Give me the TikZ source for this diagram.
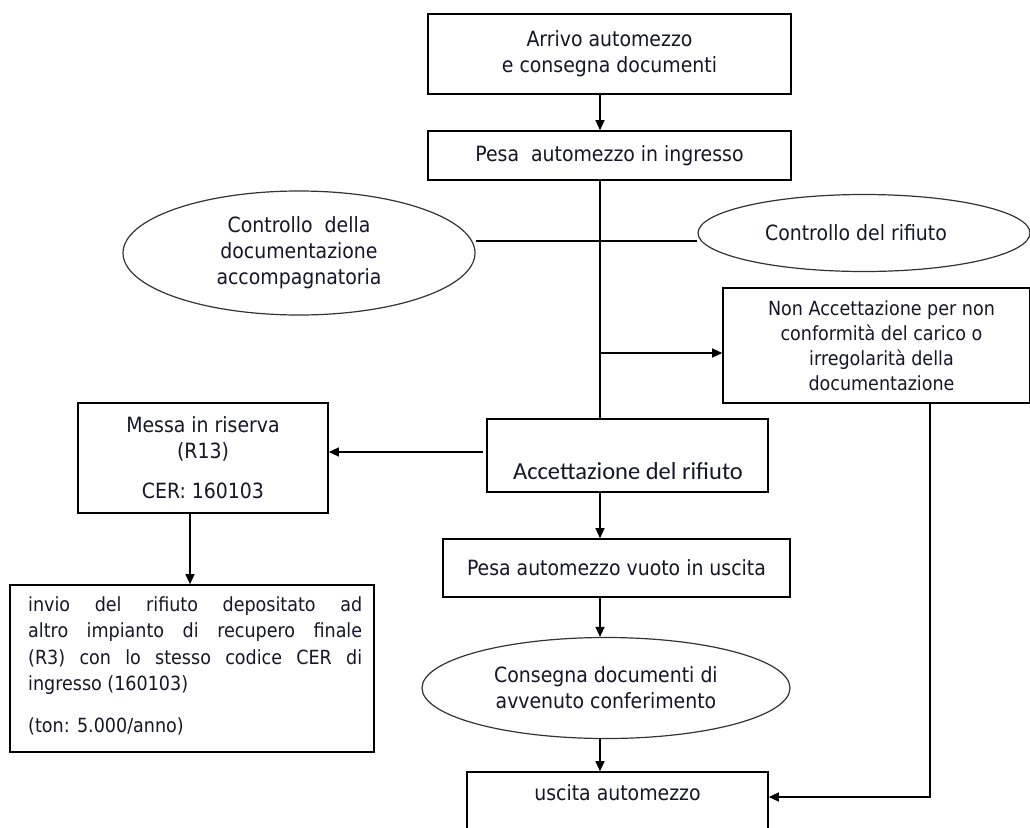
\documentclass[tikz,border=0pt]{standalone}
\usepackage{fontspec}
\setmainfont{DejaVu Sans Condensed}
\newfontfamily\calfont{Carlito}
\usetikzlibrary{arrows.meta,shapes.geometric}
\definecolor{txt}{RGB}{22,22,40}
\begin{document}
\begin{tikzpicture}[x=1pt,y=-1pt,
  box/.style={draw=black,line width=1.6pt,inner sep=0pt,align=center,text=txt},
  oval/.style={ellipse,draw=black!80,line width=1.2pt,inner sep=0pt,align=center,text=txt},
  f21/.style={font=\fontsize{21}{26}\selectfont},
  fna/.style={font=\fontsize{19.5}{25}\selectfont},
  finv/.style={font=\fontsize{19.5}{26.5}\selectfont},
  ln/.style={draw=black,line width=1.3pt},
  arr/.style={ln,-{Triangle[length=10pt,width=9pt]}}]
\useasboundingbox (0,0) rectangle (1030,827);
\fill[white] (0,0) rectangle (1030,827);
\clip (0,0) rectangle (1030,827);

\coordinate (mx) at (600,0);
\coordinate (lx) at (190,0);
\coordinate (hl) at (0,241);
\coordinate (j1) at (600,353);
\coordinate (j2) at (483,452);
\coordinate (j3) at (930,797);

\node[box,f21,minimum width=363pt,minimum height=80pt] (b1) at (609.5,54) {Arrivo automezzo\\e consegna documenti};
\node[box,f21,minimum width=363pt,minimum height=49pt] (b2) at (609.5,155.5) {Pesa\ \ automezzo in ingresso};
\node[oval,f21,minimum width=352pt,minimum height=124pt] (e1) at (299,253) {Controllo\ \ della\\documentazione\\accompagnatoria};
\node[oval,f21,minimum width=332pt,minimum height=77pt] (e2) at (864,233) {Controllo del rifiuto\hspace*{16pt}};
\node[box,fna,minimum width=307pt,minimum height=115pt] (na) at (876.5,345.5) {\hspace*{10pt}Non Accettazione per non\\\hspace*{10pt}conformità del carico o\\\hspace*{10pt}irregolarità della\\\hspace*{10pt}documentazione};
\node[box,f21,minimum width=250pt,minimum height=110pt] (ms) at (203,458) {Messa in riserva\\(R13)\\[14pt]CER: 160103};
\node[box,minimum width=281pt,minimum height=73pt] (acc) at (627.5,455.5) {};
\node[text=txt,font=\calfont\fontsize{24.5}{28}\selectfont] (acct) at (628,471) {Accettazione del rifiuto};
\node[box,f21,minimum width=347pt,minimum height=58pt] (pv) at (616.5,568) {Pesa automezzo vuoto in uscita};
\node[oval,f21,minimum width=368pt,minimum height=101pt] (cd) at (606,688) {Consegna documenti di\\avvenuto conferimento};
\node[box,minimum width=301pt,minimum height=80pt] (us) at (617.5,812) {};
\node[text=txt,f21] (ust) at (617.5,793) {uscita automezzo};
\node[box,minimum width=364pt,minimum height=167pt] (inv) at (192,668.5) {};
\node[text=txt,finv,anchor=north west,inner sep=0pt,align=left] (invt) at (28,596) {%
\makebox[334pt][s]{invio del rifiuto depositato ad}\\
\makebox[334pt][s]{altro impianto di recupero finale}\\
\makebox[334pt][s]{(R3) con lo stesso codice CER di}\\
ingresso (160103)\\[15pt]
(ton: 5.000/anno)};

\draw[arr] (b1.south -| mx) -- (b2.north -| mx);
\draw[ln] (b2.south -| mx) -- (acc.north -| mx);
\draw[ln] (e1.east |- hl) -- (e2.west |- hl);
\draw[arr] (j1) -- (j1 -| na.west);
\draw[arr] (j2) -- (j2 -| ms.east);
\draw[arr] (ms.south -| lx) -- (inv.north -| lx);
\draw[arr] (acc.south -| mx) -- (pv.north -| mx);
\draw[arr] (pv.south -| mx) -- (cd.north -| mx);
\draw[arr] (cd.south -| mx) -- (us.north -| mx);
\draw[arr] (na.south -| j3) -- (j3) -- (j3 -| us.east);
\end{tikzpicture}
\end{document}
